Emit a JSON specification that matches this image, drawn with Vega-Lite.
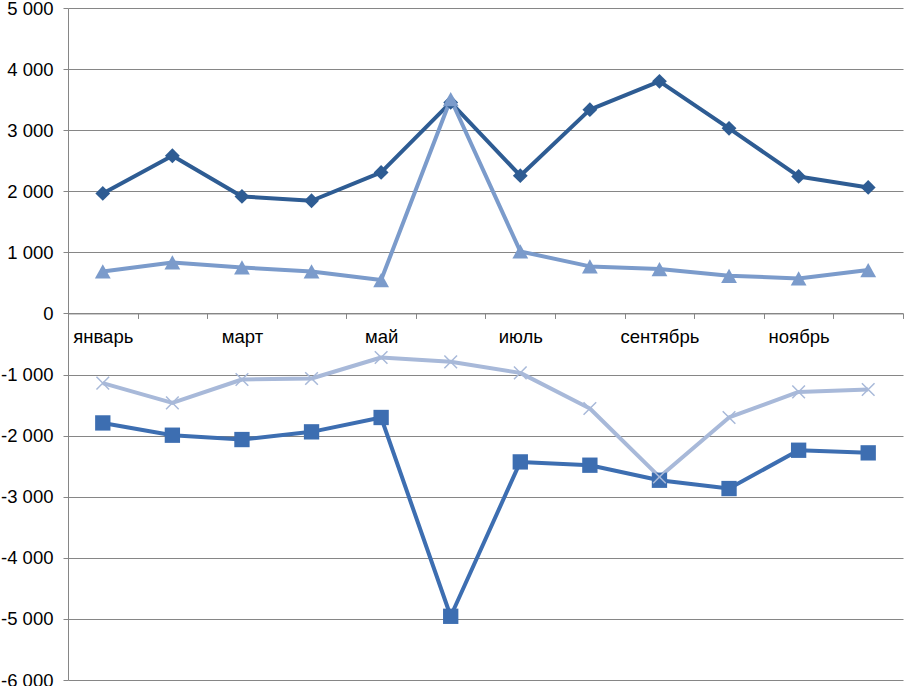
{
  "$schema": "https://vega.github.io/schema/vega-lite/v6.json",
  "width": 835,
  "height": 672,
  "autosize": "none",
  "padding": {"left": 68, "top": 8, "right": 2, "bottom": 6},
  "background": "white",
  "config": {"view": {"stroke": null}, "font": "Liberation Sans"},
  "data": {"values": [
    {"month": "январь", "series": "Ряд 1", "value": 1965},
    {"month": "февраль", "series": "Ряд 1", "value": 2582},
    {"month": "март", "series": "Ряд 1", "value": 1916},
    {"month": "апрель", "series": "Ряд 1", "value": 1845},
    {"month": "май", "series": "Ряд 1", "value": 2309},
    {"month": "июнь", "series": "Ряд 1", "value": 3455},
    {"month": "июль", "series": "Ряд 1", "value": 2255},
    {"month": "август", "series": "Ряд 1", "value": 3336},
    {"month": "сентябрь", "series": "Ряд 1", "value": 3799},
    {"month": "октябрь", "series": "Ряд 1", "value": 3030},
    {"month": "ноябрь", "series": "Ряд 1", "value": 2243},
    {"month": "декабрь", "series": "Ряд 1", "value": 2063},
    {"month": "январь", "series": "Ряд 2", "value": -1792},
    {"month": "февраль", "series": "Ряд 2", "value": -1993},
    {"month": "март", "series": "Ряд 2", "value": -2064},
    {"month": "апрель", "series": "Ряд 2", "value": -1938},
    {"month": "май", "series": "Ряд 2", "value": -1703},
    {"month": "июнь", "series": "Ряд 2", "value": -4957},
    {"month": "июль", "series": "Ряд 2", "value": -2430},
    {"month": "август", "series": "Ряд 2", "value": -2484},
    {"month": "сентябрь", "series": "Ряд 2", "value": -2730},
    {"month": "октябрь", "series": "Ряд 2", "value": -2866},
    {"month": "ноябрь", "series": "Ряд 2", "value": -2239},
    {"month": "декабрь", "series": "Ряд 2", "value": -2282},
    {"month": "январь", "series": "Ряд 3", "value": 688},
    {"month": "февраль", "series": "Ряд 3", "value": 835},
    {"month": "март", "series": "Ряд 3", "value": 753},
    {"month": "апрель", "series": "Ряд 3", "value": 688},
    {"month": "май", "series": "Ряд 3", "value": 547},
    {"month": "июнь", "series": "Ряд 3", "value": 3510},
    {"month": "июль", "series": "Ряд 3", "value": 1015},
    {"month": "август", "series": "Ряд 3", "value": 770},
    {"month": "сентябрь", "series": "Ряд 3", "value": 727},
    {"month": "октябрь", "series": "Ряд 3", "value": 617},
    {"month": "ноябрь", "series": "Ряд 3", "value": 573},
    {"month": "декабрь", "series": "Ряд 3", "value": 710},
    {"month": "январь", "series": "Ряд 4", "value": -1140},
    {"month": "февраль", "series": "Ряд 4", "value": -1464},
    {"month": "март", "series": "Ряд 4", "value": -1081},
    {"month": "апрель", "series": "Ряд 4", "value": -1065},
    {"month": "май", "series": "Ряд 4", "value": -721},
    {"month": "июнь", "series": "Ряд 4", "value": -792},
    {"month": "июль", "series": "Ряд 4", "value": -973},
    {"month": "август", "series": "Ряд 4", "value": -1556},
    {"month": "сентябрь", "series": "Ряд 4", "value": -2676},
    {"month": "октябрь", "series": "Ряд 4", "value": -1703},
    {"month": "ноябрь", "series": "Ряд 4", "value": -1284},
    {"month": "декабрь", "series": "Ряд 4", "value": -1245}
  ]},
  "encoding": {
    "x": {
      "field": "month",
      "type": "ordinal",
      "sort": ["январь", "февраль", "март", "апрель", "май", "июнь", "июль", "август", "сентябрь", "октябрь", "ноябрь", "декабрь"],
      "scale": {"type": "band", "paddingInner": 0, "paddingOuter": 0},
      "axis": {
        "orient": "bottom",
        "offset": -366.55,
        "tickBand": "extent",
        "title": null,
        "labelAngle": 0,
        "labelOverlap": false,
        "labelExpr": "indexof(['февраль','апрель','июнь','август','октябрь','декабрь'], datum.value) >= 0 ? '' : datum.value",
        "domainColor": "#868686",
        "tickColor": "#868686",
        "tickSize": 5,
        "labelFontSize": 18.5,
        "labelColor": "#000000",
        "labelPadding": 9,
        "grid": false
      }
    },
    "y": {
      "field": "value",
      "type": "quantitative",
      "scale": {"domain": [-6000, 5000], "nice": false, "zero": false},
      "axis": {
        "values": [-6000, -5000, -4000, -3000, -2000, -1000, 0, 1000, 2000, 3000, 4000, 5000],
        "labelExpr": "(datum.value < 0 ? '-' : '') + replace(format(abs(datum.value), ','), ',', ' ')",
        "title": null,
        "gridColor": "#868686",
        "domainColor": "#868686",
        "tickColor": "#868686",
        "tickSize": 5,
        "labelPadding": 10,
        "labelFontSize": 18.5,
        "labelColor": "#000000"
      }
    },
    "color": {
      "field": "series",
      "type": "nominal",
      "legend": null,
      "scale": {
        "domain": ["Ряд 1", "Ряд 2", "Ряд 3", "Ряд 4"],
        "range": ["#2E5C93", "#3D6EB1", "#7B9BCB", "#A8B9D9"]
      }
    }
  },
  "layer": [
    {
      "mark": {"type": "line", "strokeWidth": 4, "strokeJoin": "round"}
    },
    {
      "transform": [{"filter": "datum.series !== 'Ряд 4'"}],
      "mark": {"type": "point", "filled": true, "opacity": 1},
      "encoding": {
        "shape": {
          "field": "series",
          "type": "nominal",
          "legend": null,
          "scale": {
            "domain": ["Ряд 1", "Ряд 2", "Ряд 3"],
            "range": ["diamond", "square", "M0,-0.9L1,0.9L-1,0.9Z"]
          }
        },
        "size": {
          "field": "series",
          "type": "nominal",
          "legend": null,
          "scale": {"domain": ["Ряд 1", "Ряд 2", "Ряд 3"], "range": [220, 250, 220]}
        }
      }
    },
    {
      "transform": [{"filter": "datum.series === 'Ряд 4'"}],
      "mark": {"type": "point", "filled": false, "opacity": 1, "strokeWidth": 1.5, "size": 160, "shape": "M-1,-1L1,1M-1,1L1,-1"}
    }
  ]
}
